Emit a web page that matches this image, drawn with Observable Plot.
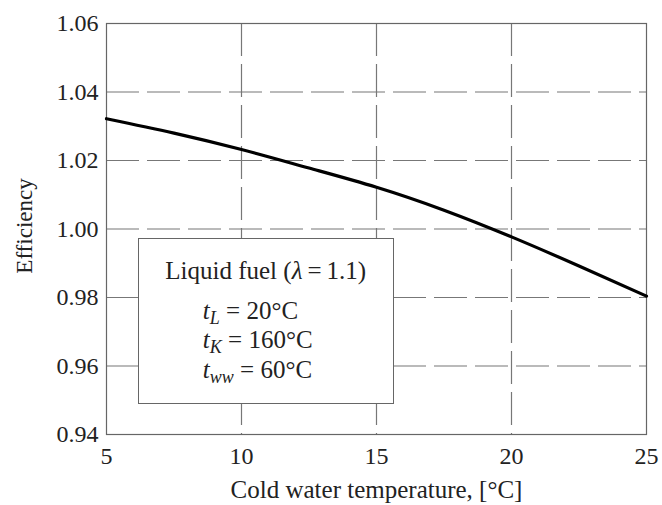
<!DOCTYPE html>
<html>
<head>
<meta charset="utf-8">
<script src="https://cdn.jsdelivr.net/npm/d3@7"></script>
<script src="https://cdn.jsdelivr.net/npm/@observablehq/plot@0.6"></script>
<style>
  html, body { margin: 0; padding: 0; background: #fff; }
  #wrap { position: relative; width: 662px; height: 505px; font-family: "Liberation Serif", "Times New Roman", serif; }
  #legend { position: absolute; background: #fff; border: 1px solid #666; box-sizing: border-box; color: #222; font-size: 25px; line-height: 25px; }
  #legend .title { position: absolute; left: 0; right: 0; text-align: center; white-space: nowrap; }
  #legend .line { position: absolute; white-space: nowrap; }
  #legend i { font-style: italic; }
  #legend sub { font-size: 0.72em; vertical-align: -0.28em; line-height: 0; }
</style>
</head>
<body>
<div id="wrap"></div>
<script>
// Data
const temperature = [5, 7.5, 10, 12.5, 15, 17.5, 20, 22.5, 25];
const efficiency  = [1.0322, 1.0280, 1.0232, 1.0178, 1.0122, 1.0055, 0.9977, 0.9892, 0.9804];
const xTicks = [5, 10, 15, 20, 25];
const yTicks = [0.94, 0.96, 0.98, 1.00, 1.02, 1.04, 1.06];
const xGrid = [10, 15, 20];
const yGrid = [0.96, 0.98, 1.00, 1.02, 1.04];
const xLabel = "Cold water temperature, [\u00B0C]";
const yLabel = "Efficiency";
// legend box extent in data units
const legendX = [6.18, 15.65];
const legendY = [0.9487, 0.9972];

const data = temperature.map((t, i) => ({t, e: efficiency[i]}));

const plot = Plot.plot({
  width: 662,
  height: 505,
  marginLeft: 106,
  marginRight: 16,
  marginTop: 23,
  marginBottom: 71,
  style: { fontFamily: "'Liberation Serif', 'Times New Roman', serif", fontSize: "24px", color: "#222", background: "#fff" },
  x: { domain: [5, 25], ticks: xTicks, tickSize: 0, tickPadding: 12, tickFormat: d => String(d), label: null },
  y: { domain: [0.94, 1.06], ticks: yTicks, tickSize: 0, tickPadding: 8, tickFormat: d => d.toFixed(2), label: null },
  marks: [
    Plot.ruleY(yGrid, { stroke: "#777", strokeWidth: 1.2, strokeDasharray: "33,8" }),
    Plot.ruleX(xGrid, { stroke: "#777", strokeWidth: 1.2, strokeDasharray: "33,8" }),
    Plot.frame({ stroke: "#666", strokeWidth: 1.2 }),
    Plot.line(data, { x: "t", y: "e", stroke: "#000", strokeWidth: 3.2, curve: "natural" }),
    Plot.text([xLabel], { frameAnchor: "bottom", lineAnchor: "middle", dy: 55, fontSize: 25, fill: "#222" }),
    Plot.text([yLabel], { frameAnchor: "left", textAnchor: "middle", rotate: -90, dx: -82, dy: -3, fontSize: 23, fill: "#222" })
  ]
});

const wrap = document.getElementById("wrap");
wrap.appendChild(plot);

// Legend overlay positioned through the plot's scales
const sx = plot.scale("x"), sy = plot.scale("y");
const boxLeft = sx.apply(legendX[0]), boxRight = sx.apply(legendX[1]);
const boxTop = sy.apply(legendY[1]), boxBottom = sy.apply(legendY[0]);
const box = document.createElement("div");
box.id = "legend";
box.style.left = boxLeft + "px";
box.style.top = boxTop + "px";
box.style.width = (boxRight - boxLeft) + "px";
box.style.height = (boxBottom - boxTop) + "px";
box.innerHTML = `
  <div class="title" style="top:19px">Liquid fuel (<i>\u03BB</i>\u2009=\u20091.1)</div>
  <div class="line" style="left:64px;top:59px"><i>t</i><sub><i>L</i></sub> = 20\u00B0C</div>
  <div class="line" style="left:64px;top:88px"><i>t</i><sub><i>K</i></sub> = 160\u00B0C</div>
  <div class="line" style="left:64px;top:118px"><i>t</i><sub><i>ww</i></sub> = 60\u00B0C</div>
`;
wrap.appendChild(box);
</script>
</body>
</html>
